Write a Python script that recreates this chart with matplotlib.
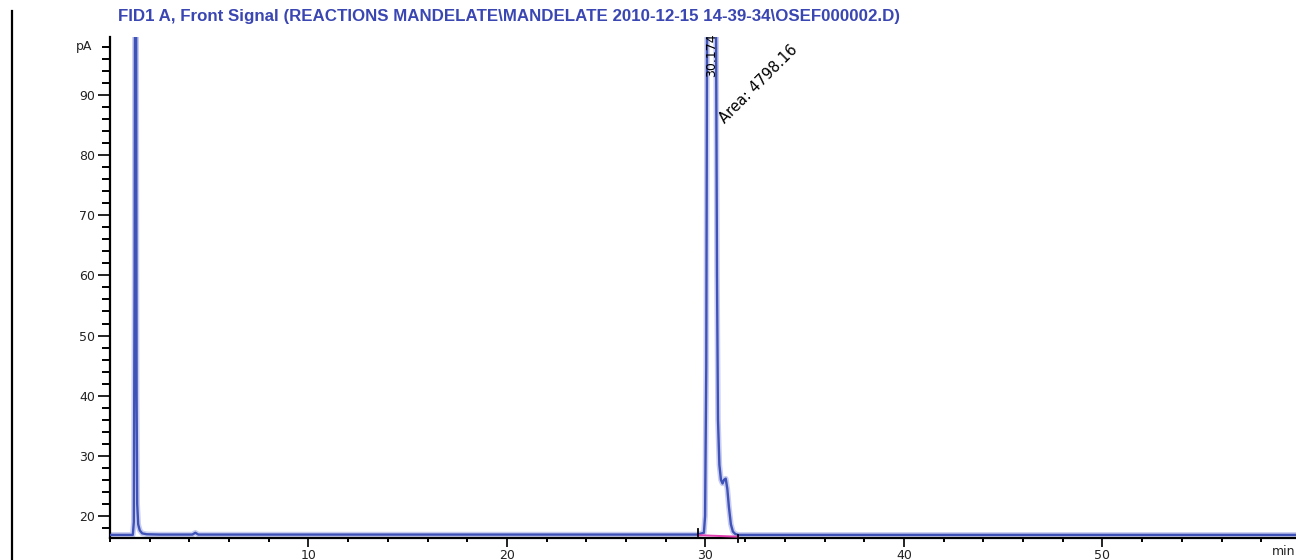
import matplotlib
matplotlib.use("Agg")
import matplotlib.pyplot as plt
from matplotlib.ticker import MultipleLocator

# ---- data ----
time_min = [0.0, 1.15, 1.20, 1.24, 1.27, 1.31, 1.34, 1.37, 1.42, 1.50, 1.62, 1.85, 2.5,
            4.15, 4.30, 4.45, 10.0, 20.0, 29.60, 29.92, 29.98, 30.04, 30.10, 30.20,
            30.50, 30.58, 30.63, 30.70, 30.78, 30.86, 30.93, 31.02, 31.10, 31.18,
            31.28, 31.38, 31.50, 31.65, 40.0, 50.0, 59.8]
signal_pA = [16.85, 16.85, 19.0, 60.0, 130.0, 130.0, 40.0, 22.0, 18.6, 17.6, 17.1, 16.95, 16.9,
             16.9, 17.2, 16.9, 16.9, 16.9, 16.9, 17.2, 20.0, 45.0, 130.0, 140.0,
             130.0, 60.0, 36.0, 28.5, 26.0, 25.4, 26.0, 26.2, 24.5, 21.5,
             18.6, 17.4, 17.0, 16.85, 16.85, 16.85, 16.85]
baseline_t = [29.62, 31.65]
baseline_v = [16.8, 16.55]
peak_rt = "30.174"
peak_area = "Area: 4798.16"
title = r"FID1 A, Front Signal (REACTIONS MANDELATE\MANDELATE 2010-12-15 14-39-34\OSEF000002.D)"
y_major = [20, 30, 40, 50, 60, 70, 80, 90]
x_major = [10, 20, 30, 40, 50]

fig = plt.figure(figsize=(12.96, 5.6), dpi=100)
ax = fig.add_axes([110 / 1296, 22 / 560, 1 - 110 / 1296, 501 / 560])
ax.set_xlim(0.0, 59.75)
ax.set_ylim(16.33, 99.65)

blue = "#3f52b8"
ax.plot(time_min, signal_pA, color="#c9cdef", lw=4.0, solid_joinstyle="round", zorder=2)
ax.plot(time_min, signal_pA, color=blue, lw=1.7, solid_joinstyle="round", zorder=3)
ax.plot(baseline_t, baseline_v, color="#e040b0", lw=1.4, zorder=4)
ax.plot([baseline_t[0], baseline_t[0]], [16.7, 17.9], color="black", lw=1.3, zorder=5)
ax.plot([baseline_t[1], baseline_t[1]], [15.7, 16.9], color="black", lw=1.3, zorder=5, clip_on=False)

for s in ["top", "right"]:
    ax.spines[s].set_visible(False)
for s in ["left", "bottom"]:
    ax.spines[s].set_linewidth(1.6)
    ax.spines[s].set_color("black")

ax.set_yticks(y_major)
ax.set_xticks(x_major)
ax.yaxis.set_minor_locator(MultipleLocator(2))
ax.xaxis.set_minor_locator(MultipleLocator(2))
ax.tick_params(axis="y", which="major", length=9, width=1.4, labelsize=9, pad=1.5, colors="#222222")
ax.tick_params(axis="y", which="minor", length=6, width=1.4)
ax.tick_params(axis="x", which="major", length=6.5, width=1.4, labelsize=9, pad=1.5, colors="#222222")
ax.tick_params(axis="x", which="minor", length=3, width=1.4)

ax.text(-0.9, 98, "pA", ha="right", va="center", fontsize=9, color="#222222")
fig.text(1295 / 1296, 2 / 560, "min", ha="right", va="bottom", fontsize=9, color="#222222")

ax.text(30.33, 100.3, peak_rt, rotation=90, ha="center", va="top", fontsize=9, color="black", zorder=6)
ax.text(31.1, 84.8, peak_area, rotation=45, rotation_mode="anchor", ha="left", va="bottom",
        fontsize=10.5, color="black", zorder=6)

fig.text(118 / 1296, 1 - 17 / 560, title, ha="left", va="center", fontsize=12.2,
         fontweight="bold", color="#3a46b2", family="Liberation Sans")

fig.add_artist(plt.Line2D([12 / 1296, 12 / 1296], [0, 1 - 11 / 560], color="black", lw=1.6))

fig.savefig("out.png", dpi=100)
